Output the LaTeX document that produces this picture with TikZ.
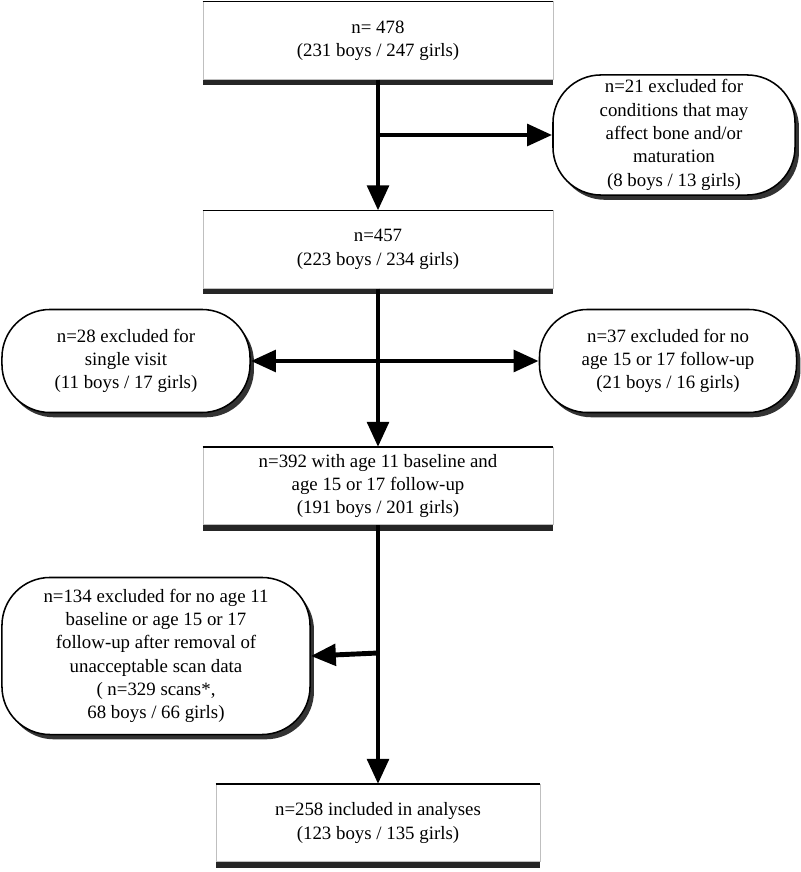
\documentclass[tikz,border=0pt]{standalone}
\usepackage{fontspec}
\setmainfont{Liberation Serif}
\usetikzlibrary{arrows.meta,shadows}
\begin{document}
\begin{tikzpicture}[x=0.025cm,y=-0.025cm,
  every node/.style={font=\fontsize{13.4}{16.6}\selectfont,align=center},
  countbox/.style={draw=black!25,line width=0.6pt,fill=white,minimum width=8.75cm,minimum height=1.93cm,
    drop shadow={shadow xshift=0pt,shadow yshift=-4.2pt,fill=black!85,opacity=1},
    append after command={(\tikzlastnode.north west) edge[draw=black,line width=1pt] (\tikzlastnode.north east)}},
  exclbox/.style={draw=black,line width=1.1pt,fill=white,rounded corners=1.2cm,
    drop shadow={shadow xshift=2.8pt,shadow yshift=-3.4pt,fill=black!80,opacity=1}},
  flow/.style={line width=3.5pt,-{Triangle[length=0.625cm,width=0.53cm]}}]
\useasboundingbox (0,0) rectangle (800,872);
\node[countbox] (n478) at (378,40.5) {n= 478\\(231 boys / 247 girls)};
\node[countbox] (n457) at (378,249.5) {n=457\\(223 boys / 234 girls)};
\node[countbox] (n392) at (378,486) {n=392 with age 11 baseline and\\age 15 or 17 follow-up\\(191 boys / 201 girls)};
\node[countbox,minimum width=8.1cm] (n258) at (378,823) {n=258 included in analyses\\(123 boys / 135 girls)};
\node[exclbox,minimum width=6.05cm,minimum height=3cm] (excl21) at (674,135)
  {n=21 excluded for\\conditions that may\\affect bone and/or\\maturation\\(8 boys / 13 girls)};
\node[exclbox,minimum width=6.2cm,minimum height=2.575cm] (excl28) at (126,361)
  {n=28 excluded for\\single visit\\(11 boys / 17 girls)};
\node[exclbox,minimum width=6.425cm,minimum height=2.575cm] (excl37) at (668,361)
  {n=37 excluded for no\\age 15 or 17 follow-up\\(21 boys / 16 girls)};
\node[exclbox,minimum width=7.7cm,minimum height=3.925cm] (excl134) at (156,656)
  {n=134 excluded for no age 11\\baseline or age 15 or 17\\follow-up after removal of\\unacceptable scan data\\( n=329 scans*,\\68 boys / 66 girls)};
\coordinate (b21) at (378,135);
\coordinate (b134) at (378,653);
\draw[flow] (n478.south) -- (n457.north);
\draw[flow] (b21) -- (excl21.west);
\draw[flow] (n457.south) -- (n392.north);
\draw[flow,{Triangle[length=0.625cm,width=0.53cm]}-{Triangle[length=0.625cm,width=0.53cm]}] (excl28.east) -- (excl37.west);
\draw[flow] (n392.south) -- (n258.north);
\draw[flow] (b134) -- (excl134.east);
\end{tikzpicture}
\end{document}
